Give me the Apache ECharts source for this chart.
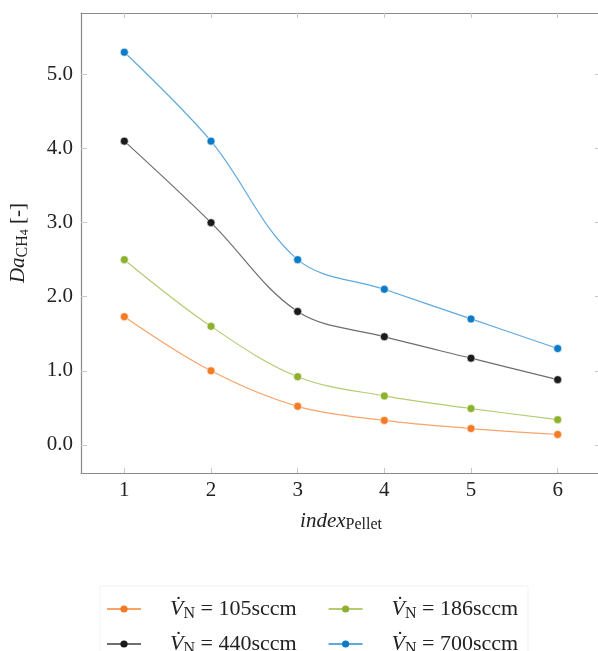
<!DOCTYPE html>
<html>
<head>
<meta charset="utf-8">
<script src="https://cdn.jsdelivr.net/npm/echarts@6/dist/echarts.min.js"></script>
<style>
  html, body { margin: 0; padding: 0; background: #fff; }
  #chart { width: 598px; height: 651px; }
</style>
</head>
<body>
<div id="chart"></div>
<script>
// pellet index on x
const pelletIndex = [1, 2, 3, 4, 5, 6];

// Da_CH4 per flow rate
const da105 = [1.73, 1.00, 0.52, 0.33, 0.22, 0.14];
const da186 = [2.50, 1.60, 0.92, 0.66, 0.49, 0.34];
const da440 = [4.10, 3.00, 1.80, 1.46, 1.17, 0.88];
const da700 = [5.30, 4.10, 2.50, 2.10, 1.70, 1.30];

const seriesNames = ['105', '186', '440', '700'];
const yTicks = [0, 1, 2, 3, 4, 5];

const serif = '"Liberation Serif", "DejaVu Serif", serif';

const colors = {
    '105': { mark: '#f47a25', line: '#f7a46a' },
    '186': { mark: '#8db12c', line: '#b3cc72' },
    '440': { mark: '#1b1b1b', line: '#6e6e6e' },
    '700': { mark: '#0b7bc6', line: '#5eaade' }
};

const dataMap = { '105': da105, '186': da186, '440': da440, '700': da700 };

const chart = echarts.init(document.getElementById('chart'));

function makeSeries(name) {
    return {
        name: name,
        type: 'line',
        data: pelletIndex.map((x, i) => [x, dataMap[name][i]]),
        smooth: 0.35,
        symbol: 'circle',
        symbolSize: 8,
        itemStyle: { color: colors[name].mark, borderColor: '#fff', borderWidth: 0.6 },
        lineStyle: { color: colors[name].line, width: 1.2 },
        emphasis: { disabled: true },
        z: 3
    };
}

const legendRich = {
    v: { fontFamily: serif, fontStyle: 'italic', fontSize: 22, color: '#222', padding: [0, 0, 0, 24] },
    sub: { fontFamily: serif, fontSize: 16, color: '#222', padding: [9, 0, 0, 0] },
    t: { fontFamily: serif, fontSize: 22, color: '#222' }
};

function legendFmt(name) {
    return '{v|V\u0307}{sub|N}{t| = ' + name + 'sccm}';
}

const axisGray = '#8a8a8a';
const tickGray = '#c8c8c8';

const legendBase = {
    left: 101,
    itemWidth: 34, itemHeight: 9, itemGap: 31,
    formatter: legendFmt,
    textStyle: { rich: legendRich },
    itemStyle: { borderWidth: 0 }
};

const option = {
    animation: false,
    grid: { left: 81, top: 13, width: 520, bottom: 178, containLabel: false, outerBoundsMode: 'none' },
    legend: [
        Object.assign({ data: ['105', '186'], top: 593 }, legendBase),
        Object.assign({ data: ['440', '700'], top: 628 }, legendBase)
    ],
    xAxis: [
        {
            type: 'value', min: 0.5, max: 6.5,
            position: 'bottom',
            axisLine: { show: true, onZero: false, lineStyle: { color: axisGray, width: 1.2 } },
            axisTick: { show: true, inside: true, length: 5, lineStyle: { color: tickGray },
                        customValues: pelletIndex },
            splitLine: { show: false },
            axisLabel: {
                color: '#222', fontFamily: serif, fontSize: 21, margin: 7,
                customValues: pelletIndex,
                formatter: v => String(v)
            },
            name: '{i|index}{s|Pellet}',
            nameLocation: 'middle', nameGap: 36,
            nameTextStyle: {
                rich: {
                    i: { fontFamily: serif, fontStyle: 'italic', fontSize: 21, color: '#222' },
                    s: { fontFamily: serif, fontSize: 16, color: '#222', padding: [8, 0, 0, 0] }
                }
            }
        },
        {
            type: 'value', min: 0.5, max: 6.5,
            position: 'top',
            axisLine: { show: true, onZero: false, lineStyle: { color: axisGray, width: 1.2 } },
            axisTick: { show: true, inside: true, length: 5, lineStyle: { color: tickGray },
                        customValues: pelletIndex },
            splitLine: { show: false },
            axisLabel: { show: false }
        }
    ],
    yAxis: [
        {
            type: 'value', min: -0.38, max: 5.83,
            position: 'left',
            axisLine: { show: true, onZero: false, lineStyle: { color: axisGray, width: 1.2 } },
            axisTick: { show: true, inside: true, length: 6, lineStyle: { color: tickGray },
                        customValues: yTicks },
            axisLabel: {
                color: '#222', fontFamily: serif, fontSize: 21, margin: 8,
                customValues: yTicks,
                formatter: v => v.toFixed(1)
            },
            splitLine: { show: false },
            name: '{i|Da}{s|CH}{ss|4}{t| [-]}',
            nameLocation: 'middle', nameGap: 50, nameRotate: 90,
            nameTextStyle: {
                rich: {
                    i: { fontFamily: serif, fontStyle: 'italic', fontSize: 21, color: '#222' },
                    s: { fontFamily: serif, fontSize: 16, color: '#222', padding: [9, 0, 0, 0] },
                    ss: { fontFamily: serif, fontSize: 12, color: '#222', padding: [14, 0, 0, 0] },
                    t: { fontFamily: serif, fontSize: 21, color: '#222' }
                }
            }
        },
        {
            type: 'value', min: -0.38, max: 5.83,
            position: 'right',
            axisLine: { show: false },
            axisTick: { show: true, inside: true, length: 6, lineStyle: { color: tickGray },
                        customValues: yTicks },
            axisLabel: { show: false },
            splitLine: { show: false }
        }
    ],
    graphic: [
        {
            type: 'rect',
            shape: { x: 100, y: 586, width: 428, height: 70 },
            style: { fill: 'none', stroke: '#f2f2f2', lineWidth: 1 },
            silent: true
        }
    ],
    series: seriesNames.map(makeSeries)
};

chart.setOption(option);
</script>
</body>
</html>
